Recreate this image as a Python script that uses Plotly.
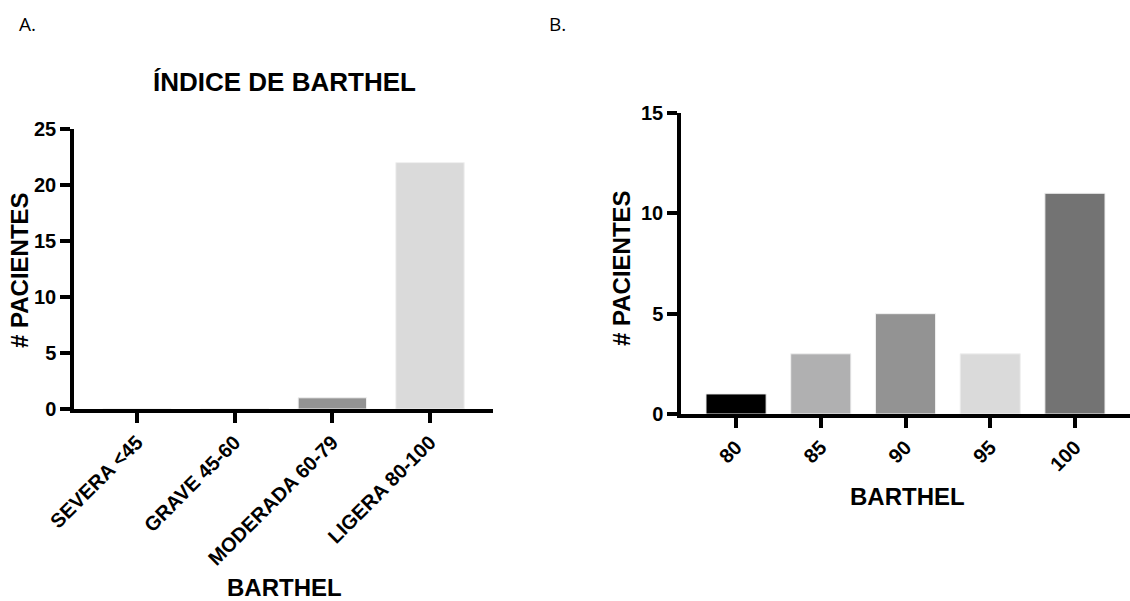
import plotly.graph_objects as go

# Panel A data
cats_a = ["SEVERA <45", "GRAVE 45-60", "MODERADA 60-79", "LIGERA 80-100"]
vals_a = [0, 0, 1, 22]
colors_a = ["#000000", "#b0b0b1", "#939393", "#dadada"]

# Panel B data
cats_b = ["80", "85", "90", "95", "100"]
vals_b = [1, 3, 5, 3, 11]
colors_b = ["#000000", "#b0b0b1", "#939393", "#dadada", "#737373"]

W, H = 1130, 601
FONT = "Liberation Sans"

def px(x):
    return x / W

def py(y):
    return 1 - y / H

fig = go.Figure()
fig.add_trace(go.Bar(x=cats_a, y=vals_a, marker=dict(color=colors_a, line=dict(color="#f0f0f0", width=1)),
                     width=0.7, xaxis="x", yaxis="y", showlegend=False))
fig.add_trace(go.Bar(x=cats_b, y=vals_b, marker=dict(color=colors_b, line=dict(color="#f0f0f0", width=1)),
                     width=0.71, xaxis="x2", yaxis="y2", showlegend=False))

axis_common = dict(showgrid=False, zeroline=False, showline=True, linecolor="black", linewidth=3.5,
                   ticks="outside", ticklen=10, tickwidth=3.5, tickcolor="black", automargin=False,
                   tickfont=dict(family=FONT, size=20, color="black", weight="bold"))

fig.update_layout(
    width=W, height=H, margin=dict(l=0, r=0, t=0, b=0, pad=0, autoexpand=False),
    paper_bgcolor="white", plot_bgcolor="white",
    xaxis=dict(domain=[px(74), px(493)], range=[-0.645, 3.645], anchor="y", tickangle=-45,
               type="category", **axis_common),
    yaxis=dict(domain=[py(409), py(129)], range=[0, 25], anchor="x", tickvals=[0, 5, 10, 15, 20, 25],
               **axis_common),
    xaxis2=dict(domain=[px(681), px(1130)], range=[-0.65, 4.65], anchor="y2", tickangle=-45,
                type="category", **axis_common),
    yaxis2=dict(domain=[py(414), py(113)], range=[0, 15], anchor="x2", tickvals=[0, 5, 10, 15],
                **axis_common),
)

def ann(text, x, y, size, bold=True, angle=0, family=FONT):
    fig.add_annotation(text=text, x=px(x), y=py(y), xref="paper", yref="paper",
                       showarrow=False, textangle=angle, xanchor="center", yanchor="middle",
                       font=dict(family=family, size=size, color="black",
                                 weight="bold" if bold else "normal"))

ann("ÍNDICE DE BARTHEL", 284, 82, 26)
ann("# PACIENTES", 19, 270, 24, angle=-90)
ann("BARTHEL", 284, 587, 24)
ann("# PACIENTES", 621, 268, 24, angle=-90)
ann("BARTHEL", 907, 496, 24)
ann("A.", 27, 24, 19, bold=False, family="Open Sans")
ann("B.", 557, 24, 19, bold=False, family="Open Sans")

fig.write_html("out.html")
